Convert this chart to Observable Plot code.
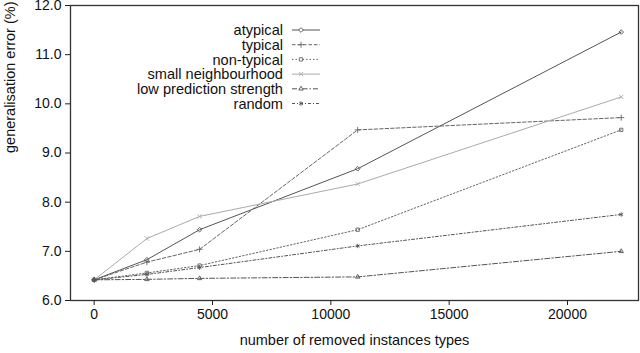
<!DOCTYPE html>
<html>
<head>
<meta charset="utf-8">
<script src="https://cdn.jsdelivr.net/npm/d3@7"></script>
<script src="https://cdn.jsdelivr.net/npm/@observablehq/plot@0.6"></script>
<style>
  html, body { margin: 0; padding: 0; background: white; }
  #chart { width: 640px; height: 353px; }
</style>
</head>
<body>
<div id="chart"></div>
<script>
const xValues = [0, 2227, 4454, 11135, 22270];
const seriesNames = ["atypical", "typical", "non-typical", "small neighbourhood", "low prediction strength", "random"];
const atypical = [6.42, 6.83, 7.44, 8.68, 11.46];
const typical = [6.42, 6.78, 7.04, 9.47, 9.72];
const nonTypical = [6.42, 6.56, 6.71, 7.44, 9.47];
const smallNeighbourhood = [6.42, 7.26, 7.71, 8.37, 10.14];
const lowPredictionStrength = [6.42, 6.43, 6.45, 6.48, 7.00];
const random = [6.42, 6.53, 6.67, 7.11, 7.75];
const xTicks = [0, 5000, 10000, 15000, 20000];
const yTicks = [6, 7, 8, 9, 10, 11, 12];

const seriesValues = [atypical, typical, nonTypical, smallNeighbourhood, lowPredictionStrength, random];
const styles = [
  {stroke: "#555", dash: null, symbol: "diamond"},
  {stroke: "#666", dash: "3.5,2", symbol: "plus"},
  {stroke: "#666", dash: "1.5,2", symbol: "square"},
  {stroke: "#aaa", dash: null, symbol: "times"},
  {stroke: "#555", dash: "5,2,1.5,2", symbol: "triangle"},
  {stroke: "#555", dash: "3,2,1,2", symbol: "asterisk"}
];
const d3Symbols = {diamond: d3.symbolDiamond2, plus: d3.symbolPlus, square: d3.symbolSquare2, times: d3.symbolTimes, triangle: d3.symbolTriangle2, asterisk: d3.symbolAsterisk};

const data = [];
seriesNames.forEach((name, i) => {
  seriesValues[i].forEach((v, j) => data.push({series: name, x: xValues[j], y: v}));
});

const font = "'Liberation Sans', Arial, Helvetica, sans-serif";
const marks = [
  Plot.frame({stroke: "#333", strokeWidth: 1.3}),
  Plot.axisX({ticks: xTicks, tickFormat: d => String(d), tickSize: 5, tickPadding: 4, label: null, stroke: "#222"}),
  Plot.axisY({ticks: yTicks, tickFormat: d => d.toFixed(1), tickSize: 5, tickPadding: 4, label: null, stroke: "#222"}),
  Plot.text(["generalisation error (%)"], {frameAnchor: "left", dx: -60, rotate: -90, fontSize: 14.5, fill: "#111"}),
  Plot.text(["number of removed instances types"], {frameAnchor: "bottom", dy: 44, fontSize: 14.5, fill: "#111"})
];
seriesNames.forEach((name, i) => {
  const s = styles[i];
  const d = data.filter(r => r.series === name);
  marks.push(Plot.line(d, {x: "x", y: "y", stroke: s.stroke, strokeWidth: 1, strokeDasharray: s.dash || undefined}));
  marks.push(Plot.dot(d, {x: "x", y: "y", stroke: s.stroke, symbol: d3Symbols[s.symbol], r: 2.1, strokeWidth: 0.9, fill: "none"}));
});

const chart = Plot.plot({
  width: 640,
  height: 353,
  marginLeft: 70,
  marginRight: 2,
  marginTop: 5,
  marginBottom: 53,
  x: {domain: [-1000, 23000]},
  y: {domain: [6, 12]},
  style: {fontFamily: font, fontSize: "14px", color: "#111", background: "white", overflow: "visible"},
  marks
});
document.getElementById("chart").appendChild(chart);

// Legend (inside plot area, top right)
const svg = d3.select(chart);
const lg = svg.append("g").attr("font-family", font).attr("font-size", 14.6).attr("fill", "#111");
seriesNames.forEach((name, i) => {
  const s = styles[i];
  const cy = 30 + i * 14.7;
  lg.append("text").attr("x", 283).attr("y", cy).attr("dy", "0.35em").attr("text-anchor", "end").text(name);
  lg.append("line").attr("x1", 292).attr("x2", 320).attr("y1", cy).attr("y2", cy)
    .attr("stroke", s.stroke).attr("stroke-width", 1).attr("stroke-dasharray", s.dash);
  lg.append("path").attr("transform", `translate(301,${cy})`)
    .attr("d", d3.symbol(d3Symbols[s.symbol], 14)())
    .attr("stroke", s.stroke).attr("fill", "white").attr("stroke-width", 0.9);
});
</script>
</body>
</html>
